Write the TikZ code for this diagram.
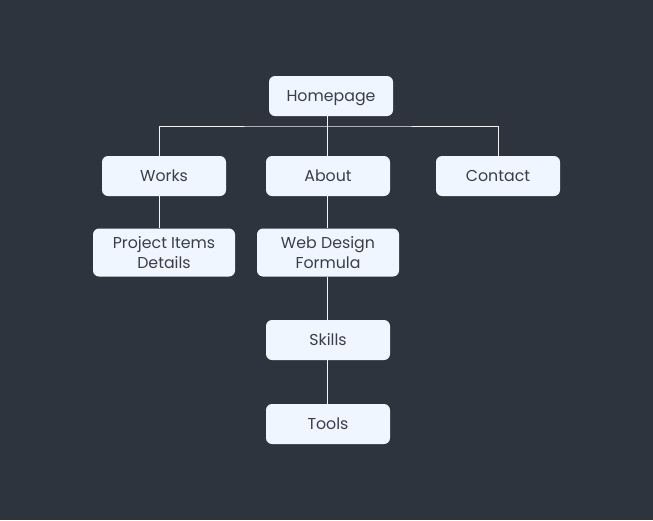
\documentclass[tikz,border=0pt]{standalone}
\usepackage{fontspec}
\setmainfont{Poppins}
\definecolor{bg}{HTML}{2E343D}
\definecolor{boxfill}{HTML}{EFF6FF}
\definecolor{txt}{HTML}{3A3F47}
\definecolor{ln}{HTML}{F2F4F7}
\begin{document}
\begin{tikzpicture}[x=1pt,y=-1pt,
  base/.style={draw=none,fill=boxfill,rounded corners=6pt,
    text=txt,font=\fontsize{15.8}{20}\selectfont,align=center,inner sep=0pt},
  box/.style={base,minimum width=124pt,minimum height=40pt,text height=11.2pt,text depth=0pt},
  tallbox/.style={base,minimum width=142pt,minimum height=48pt},
  conn/.style={draw=ln,line width=1pt}]
\fill[bg] (0,0) rectangle (653,520);
\useasboundingbox (0,0) rectangle (653,520);
\node[box] (home) at (331,96) {Homepage};
\node[box] (works) at (164,176) {Works};
\node[box] (about) at (328,176) {About};
\node[box] (contact) at (498,176) {Contact};
\node[tallbox] (proj) at (164,252.5) {Project Items\\Details};
\node[tallbox] (web) at (328,252.5) {Web Design\\Formula};
\node[box] (skills) at (328,340) {Skills};
\node[box] (tools) at (328,424) {Tools};
\coordinate (bus) at (327,126);
\draw[conn] (home.south -| bus) -- (bus);
\draw[conn] ([xshift=-5pt]works.north) |- (bus) -| (contact.north);
\draw[conn] (bus) -- (about.north -| bus);
\draw[conn] ([xshift=-5pt]works.south) -- ([xshift=-5pt]proj.north);
\draw[conn] (about.south -| bus) -- (web.north -| bus);
\draw[conn] (web.south -| bus) -- (skills.north -| bus);
\draw[conn] (skills.south -| bus) -- (tools.north -| bus);
\end{tikzpicture}
\end{document}
